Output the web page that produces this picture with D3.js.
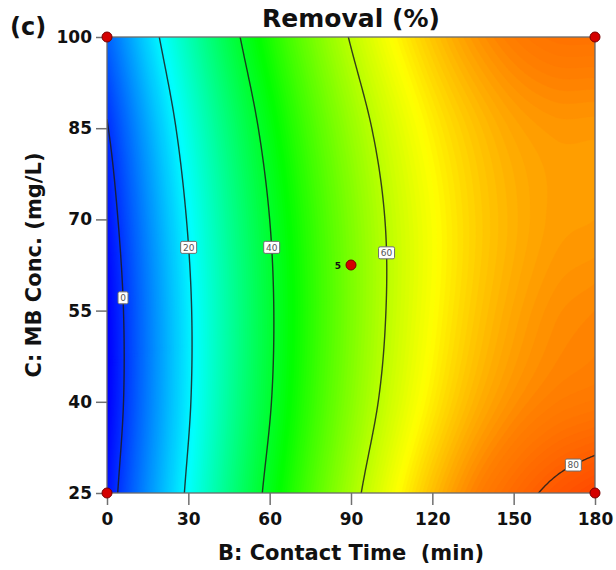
<!DOCTYPE html>
<html>
<head>
<meta charset="utf-8">
<script src="https://cdn.jsdelivr.net/npm/d3@7/dist/d3.min.js"></script>
<style>
  html, body { margin: 0; padding: 0; background: #ffffff; }
  svg { display: block; font-family: "DejaVu Sans", Verdana, sans-serif; }
</style>
</head>
<body>
<svg id="chart" width="616" height="570"></svg>
<script>
// Response surface: Removal (%) vs contact time (B) and MB concentration (C)
const timeGrid = [0, 15, 30, 45, 60, 75, 90, 105, 120, 135, 150, 165, 180];
const concGrid = [25, 40, 55, 70, 85, 100];

// Removal (%) along the time grid, one row per concentration level
const removalAt25  = [-3.4, 9.4, 21.1, 31.9, 41.7, 50.5, 58.2, 65.0, 70.8, 75.3, 78.4, 80.9, 82.8];
const removalAt40  = [-5.3, 7.6, 19.3, 30.0, 39.6, 48.2, 55.6, 62.0, 67.3, 71.5, 74.3, 75.9, 76.6];
const removalAt55  = [-5.2, 7.5, 19.1, 29.6, 39.1, 47.4, 54.6, 60.8, 65.8, 69.8, 72.6, 74.3, 75.0];
const removalAt70  = [-3.4, 9.1, 20.5, 30.8, 40.0, 48.1, 55.0, 60.9, 65.6, 69.3, 71.8, 73.2, 73.5];
const removalAt85  = [-0.4, 12.0, 23.3, 33.4, 42.4, 50.3, 57.0, 62.6, 67.1, 70.4, 72.7, 73.7, 73.7];
const removalAt100 = [4.8, 16.8, 27.6, 37.5, 46.2, 53.8, 60.4, 65.9, 70.3, 73.7, 76.0, 77.2, 77.3];

const contourLevels = [0, 20, 40, 60, 80];
const timeTicks = [0, 30, 60, 90, 120, 150, 180];
const concTicks = [25, 40, 55, 70, 85, 100];

// design points (time, conc, replicate count)
const designTime = [0, 0, 180, 180, 90];
const designConc = [25, 100, 25, 100, 62.5];
const designReps = [1, 1, 1, 1, 5];

const rows = [removalAt25, removalAt40, removalAt55, removalAt70, removalAt85, removalAt100];

// ---- layout ----
const plot = { left: 107, right: 595, top: 37, bottom: 493 };

const x = d3.scaleLinear().domain([0, 180]).range([plot.left, plot.right]);
const y = d3.scaleLinear().domain([25, 100]).range([plot.bottom, plot.top]);

const color = d3.scaleLinear()
  .domain([-5, 21, 44, 66, 75.5, 84])
  .range(["#0000ff", "#00ffff", "#00ff00", "#ffff00", "#ff8000", "#ff4000"])
  .clamp(true);

// ---- smooth surface through the grid (Catmull-Rom in both directions) ----
function cr(v, g) {
  const n = v.length;
  let i = Math.floor(g);
  if (i >= n - 1) i = n - 2;
  if (i < 0) i = 0;
  const s = g - i;
  const p1 = v[i], p2 = v[i + 1];
  const p0 = i > 0 ? v[i - 1] : 2 * p1 - p2;
  const p3 = i + 2 < n ? v[i + 2] : 2 * p2 - p1;
  return 0.5 * ((2 * p1) + (-p0 + p2) * s + (2 * p0 - 5 * p1 + 4 * p2 - p3) * s * s + (-p0 + 3 * p1 - 3 * p2 + p3) * s * s * s);
}
const dt = 0.5, dc = 0.5;
const nx = Math.round(180 / dt) + 1;
const ny = Math.round(75 / dc) + 1;
const field = new Float64Array(nx * ny);
for (let i = 0; i < nx; i++) {
  const t = i * dt;
  const gx = t / (timeGrid[1] - timeGrid[0]);
  const col = rows.map(r => cr(r, gx));
  for (let j = 0; j < ny; j++) {
    const c = concGrid[0] + j * dc;
    const gy = (c - concGrid[0]) / (concGrid[1] - concGrid[0]);
    field[j * nx + i] = cr(col, gy);
  }
}
function valueAt(t, c) {
  const gx = t / (timeGrid[1] - timeGrid[0]);
  const col = rows.map(r => cr(r, gx));
  return cr(col, (c - concGrid[0]) / (concGrid[1] - concGrid[0]));
}

// grid coordinates -> screen
const gridProj = d3.geoTransform({
  point: function (gx, gy) {
    this.stream.point(x((gx - 0.5) * dt), y(concGrid[0] + (gy - 0.5) * dc));
  }
});
const path = d3.geoPath(gridProj);
const contours = d3.contours().size([nx, ny]);

const svg = d3.select("#chart");
svg.append("defs").append("clipPath").attr("id", "plotClip")
  .append("rect")
  .attr("x", plot.left).attr("y", plot.top)
  .attr("width", plot.right - plot.left).attr("height", plot.bottom - plot.top);

// colour field
const bandStep = 0.5;
const bandThresholds = d3.range(-6, 86, bandStep);
const fieldG = svg.append("g").attr("clip-path", "url(#plotClip)");
fieldG.append("rect")
  .attr("x", plot.left).attr("y", plot.top)
  .attr("width", plot.right - plot.left).attr("height", plot.bottom - plot.top)
  .attr("fill", color(-6));
fieldG.selectAll("path.band")
  .data(contours.thresholds(bandThresholds)(field))
  .join("path")
  .attr("class", "band")
  .attr("d", path)
  .attr("fill", d => color(d.value + bandStep / 2))
  .attr("stroke", d => color(d.value + bandStep / 2))
  .attr("stroke-width", 0.4);

// contour lines
const lineG = svg.append("g").attr("clip-path", "url(#plotClip)");
lineG.selectAll("path.iso")
  .data(contours.thresholds(contourLevels)(field))
  .join("path")
  .attr("class", "iso")
  .attr("d", path)
  .attr("fill", "none")
  .attr("stroke", "#1c1c1c")
  .attr("stroke-opacity", 0.85)
  .attr("stroke-width", 1.4);

// contour labels, placed where each level crosses a chosen concentration
const labelConc = { 0: 57.1, 20: 65.4, 40: 65.4, 60: 64.5, 80: 29.6 };
function crossing(level, c) {
  let lo = 0, hi = 180;
  if (valueAt(hi, c) < level) return null;
  for (let k = 0; k < 50; k++) {
    const mid = (lo + hi) / 2;
    if (valueAt(mid, c) < level) lo = mid; else hi = mid;
  }
  return (lo + hi) / 2;
}
const labelG = svg.append("g");
contourLevels.forEach(level => {
  const c = labelConc[level];
  const t = crossing(level, c);
  if (t === null) return;
  const cx = x(t), cy = y(c);
  const txt = String(level);
  const w = txt.length === 1 ? 10 : 16, h = 12;
  labelG.append("rect")
    .attr("x", cx - w / 2).attr("y", cy - h / 2)
    .attr("width", w).attr("height", h)
    .attr("rx", 1.5)
    .attr("fill", "#ffffff")
    .attr("stroke", "#6e6e6e")
    .attr("stroke-width", 1);
  labelG.append("text")
    .attr("x", cx).attr("y", cy + 3.3)
    .attr("text-anchor", "middle")
    .attr("font-size", 9)
    .attr("fill", "#555555")
    .text(txt);
});

// frame
svg.append("rect")
  .attr("x", plot.left).attr("y", plot.top)
  .attr("width", plot.right - plot.left).attr("height", plot.bottom - plot.top)
  .attr("fill", "none")
  .attr("stroke", "#6a6a6a")
  .attr("stroke-width", 1.3);

// axes
const xAxis = d3.axisBottom(x).tickValues(timeTicks).tickSize(12).tickPadding(8).tickFormat(d3.format("d"));
const yAxis = d3.axisLeft(y).tickValues(concTicks).tickSize(11).tickPadding(4).tickFormat(d3.format("d"));
const gx = svg.append("g").attr("transform", `translate(0,${plot.bottom})`).call(xAxis);
const gy = svg.append("g").attr("transform", `translate(${plot.left},0)`).call(yAxis);
[gx, gy].forEach(g => {
  g.select(".domain").remove();
  g.selectAll(".tick line").attr("stroke", "#707070").attr("stroke-width", 1.5);
  g.selectAll(".tick text")
    .attr("font-family", "DejaVu Sans, sans-serif")
    .attr("font-weight", "bold")
    .attr("font-size", 17)
    .attr("fill", "#111111");
});

// design points
const ptG = svg.append("g");
designTime.forEach((t, i) => {
  ptG.append("circle")
    .attr("cx", x(t)).attr("cy", y(designConc[i]))
    .attr("r", 5)
    .attr("fill", "#d40000")
    .attr("stroke", "#7a0000")
    .attr("stroke-width", 1);
  if (designReps[i] > 1) {
    ptG.append("text")
      .attr("x", x(t) - 10).attr("y", y(designConc[i]) + 3.5)
      .attr("text-anchor", "end")
      .attr("font-size", 9)
      .attr("font-weight", "bold")
      .attr("fill", "#111111")
      .text(designReps[i]);
  }
});

// titles
svg.append("text")
  .attr("x", (plot.left + plot.right) / 2).attr("y", 27)
  .attr("text-anchor", "middle")
  .attr("font-size", 25).attr("font-weight", "bold").attr("fill", "#111111")
  .text("Removal (%)");
svg.append("text")
  .attr("x", 10).attr("y", 35)
  .attr("font-size", 24).attr("font-weight", "bold").attr("fill", "#111111")
  .text("(c)");
svg.append("text")
  .attr("x", (plot.left + plot.right) / 2).attr("y", 560)
  .attr("text-anchor", "middle")
  .attr("font-size", 21).attr("font-weight", "bold").attr("fill", "#111111")
  .style("white-space", "pre")
  .text("B: Contact Time  (min)");
svg.append("text")
  .attr("transform", `translate(41,${(plot.top + plot.bottom) / 2}) rotate(-90)`)
  .attr("text-anchor", "middle")
  .attr("font-size", 21).attr("font-weight", "bold").attr("fill", "#111111")
  .text("C: MB Conc. (mg/L)");
</script>
</body>
</html>
